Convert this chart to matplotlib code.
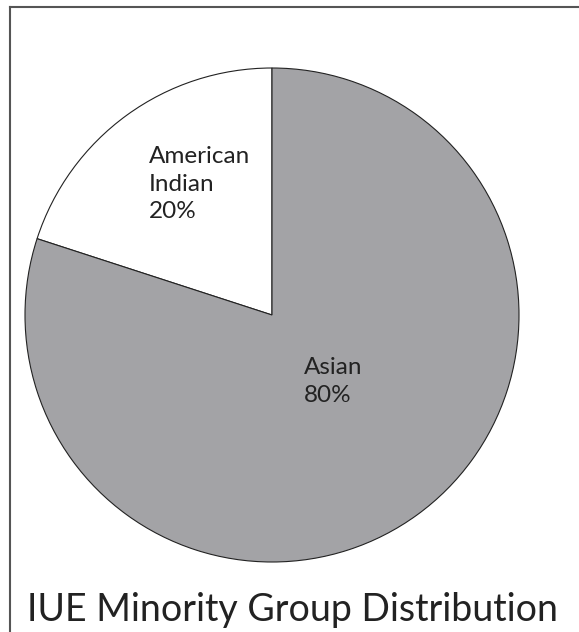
import matplotlib
matplotlib.use('Agg')
import matplotlib.pyplot as plt
from matplotlib.lines import Line2D

labels = ['American\nIndian', 'Asian']
shares = [20, 80]
colors = ['#ffffff', '#a3a3a6']
title = 'IUE Minority Group Distribution'

plt.rcParams['font.family'] = ['Lato', 'DejaVu Sans']

fig = plt.figure(figsize=(5.79, 6.32), dpi=100)
ax = fig.add_axes([25 / 579, 1 - 562 / 632, 494 / 579, 494 / 632])

wedges, texts = ax.pie(shares, colors=colors, startangle=90, counterclock=True,
                       wedgeprops=dict(edgecolor='#222222', linewidth=0.8))
ax.set_xlim(-1, 1)
ax.set_ylim(-1, 1)
ax.set_aspect('equal')

# labels inside the slices
label_pos = [(-0.50, 0.53), (0.13, -0.27)]
for (x, y), name, val in zip(label_pos, labels, shares):
    ax.text(x, y, f'{name}\n{val}%', ha='left', va='center',
            fontsize=17.5, color='#222222', linespacing=1.4)

fig.text(27 / 579, 1 - 610 / 632, title, ha='left', va='center',
         fontsize=27, color='#222222')

# frame round the picture (only top and left show)
fig.add_artist(Line2D([10 / 579, 1], [1 - 7 / 632, 1 - 7 / 632],
                      transform=fig.transFigure, color='#555555', lw=1.5))
fig.add_artist(Line2D([10 / 579, 10 / 579], [0, 1 - 7 / 632],
                      transform=fig.transFigure, color='#555555', lw=1.5))

fig.savefig('out.png', dpi=100)
